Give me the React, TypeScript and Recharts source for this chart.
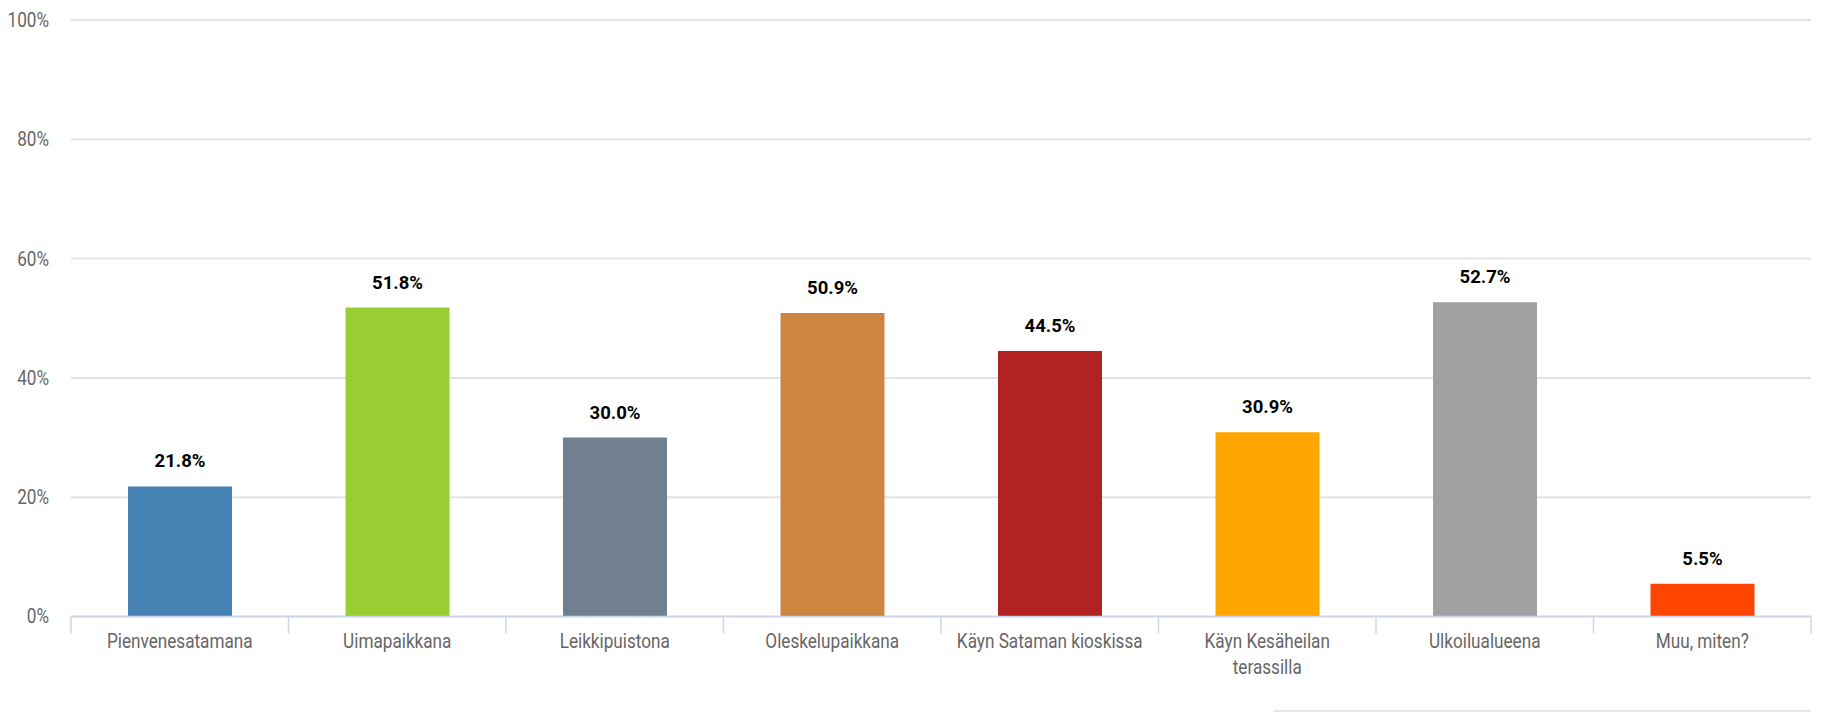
import { BarChart, Bar, XAxis, YAxis, CartesianGrid, Cell, LabelList } from 'recharts';

// Vastaukset: miten käytät aluetta
const categories = [
  'Pienvenesatamana',
  'Uimapaikkana',
  'Leikkipuistona',
  'Oleskelupaikkana',
  'Käyn Sataman kioskissa',
  'Käyn Kesäheilan\nterassilla',
  'Ulkoilualueena',
  'Muu, miten?',
];
const values = [21.8, 51.8, 30.0, 50.9, 44.5, 30.9, 52.7, 5.5];
const colors = ['#4682B4', '#9ACD32', '#708090', '#CD853F', '#B22222', '#FFA500', '#A0A0A0', '#FF4500'];
const yTicks = [0, 20, 40, 60, 80, 100];

const data = categories.map((name, i) => ({ name, value: values[i] }));

const W = 1831;
const H = 713;
const MARGIN = { top: 20, right: 20, left: 0, bottom: 0 };
const Y_W = 71;
const BAND = (W - Y_W - MARGIN.left - MARGIN.right) / categories.length;
const FONT = 'Roboto, "Noto Sans", sans-serif';
const SQUEEZE = 0.88; // the original uses a condensed face
const AXIS = '#ccd6eb';

function CatTick(props: any) {
  const { x, y, payload, index } = props;
  const lines = String(payload.value).split('\n');
  return (
    <g>
      <line x1={x - BAND / 2} x2={x - BAND / 2} y1={y} y2={y + 17} stroke={AXIS} strokeWidth={1.5} />
      {index === categories.length - 1 && (
        <line x1={x + BAND / 2} x2={x + BAND / 2} y1={y} y2={y + 17} stroke={AXIS} strokeWidth={1.5} />
      )}
      <g transform={`translate(${x},${y}) scale(${SQUEEZE},1)`}>
        <text x={0} y={0} textAnchor="middle" fill="#666" fontSize={19.5} fontFamily={FONT}>
          {lines.map((l, i) => (
            <tspan key={i} x={0} dy={i === 0 ? 32 : 26}>{l}</tspan>
          ))}
        </text>
      </g>
    </g>
  );
}

function PctTick(props: any) {
  const { x, y, payload } = props;
  return (
    <g transform={`translate(${x},${y}) scale(${SQUEEZE},1)`}>
      <text x={0} y={0} dy="0.355em" textAnchor="end" fill="#666" fontSize={19.5} fontFamily={FONT}>
        {`${payload.value}%`}
      </text>
    </g>
  );
}

export default function App() {
  return (
    <div style={{ position: 'fixed', left: 0, top: 0, width: W, height: H, background: '#fff', fontFamily: FONT }}>
      <BarChart width={W} height={H} data={data} margin={MARGIN}>
        <CartesianGrid vertical={false} stroke="#e3e3e3" strokeWidth={2} xAxisId="cat" />
        <XAxis
          xAxisId="cat"
          dataKey="name"
          height={H - 616.5}
          interval={0}
          tickLine={false}
          tickSize={0}
          tickMargin={0}
          axisLine={{ stroke: AXIS, strokeWidth: 1.5 }}
          tick={<CatTick />}
        />
        <YAxis
          domain={[0, 100]}
          ticks={yTicks}
          width={Y_W}
          axisLine={false}
          tickLine={false}
          tickSize={0}
          tickMargin={22}
          tick={<PctTick />}
        />
        <Bar dataKey="value" xAxisId="cat" barSize={104} isAnimationActive={false}>
          {data.map((d, i) => (
            <Cell key={d.name} fill={colors[i]} />
          ))}
          <LabelList
            dataKey="value"
            position="top"
            offset={19}
            formatter={(v: any) => `${Number(v).toFixed(1)}%`}
            fill="#000"
            fontSize={18.5}
            fontWeight="bold"
            fontFamily={FONT}
          />
        </Bar>
      </BarChart>
      <div style={{ position: 'absolute', left: 1273, top: 710, width: 538, height: 0, borderTop: '2px solid #e6e6e6' }} />
    </div>
  );
}
